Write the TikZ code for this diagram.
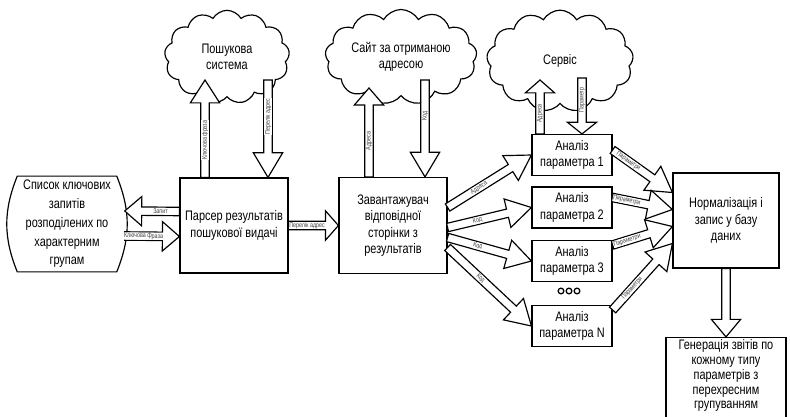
\documentclass[tikz,border=0pt]{standalone}
\usepackage{fontspec}
\setmainfont{Liberation Sans}[FakeStretch=0.79]
\usetikzlibrary{shapes,shapes.symbols,arrows,positioning,calc}

\tikzset{
  block/.style={rectangle, draw, line width=1pt, fill=white, align=center,
    font=\fontsize{11.8}{14}\selectfont, inner sep=2pt},
  anbox/.style={block, minimum width=2.4cm, minimum height=1.23cm},
  cloudnode/.style={cloud, draw, line width=1pt, cloud puffs=13, cloud puff arc=120,
    cloud ignores aspect, align=center, font=\fontsize{11.8}{14}\selectfont, inner sep=0pt},
  fatarrow/.style={draw, line width=1pt, fill=white, line join=miter},
  arrlabel/.style={midway, font=\fontsize{5.8}{5.8}\selectfont, text=black!75,
    inner sep=0.3pt, fill=white},
}

% shaft and head half widths of the wide arrows
\def\shw{3.6pt}
\def\hdw{12.5pt}
% \fatarr[head length]{from}{to}{label}{label options}
\newcommand{\fatarr}[5][20pt]{%
  \coordinate (fah) at ($(#3)!#1!(#2)$);
  \draw[fatarrow] ($(#2)!\shw!90:(#3)$) -- ($(fah)!\shw!90:(#3)$)
    -- ($(fah)!\hdw!90:(#3)$) -- (#3) -- ($(fah)!\hdw!-90:(#3)$)
    -- ($(fah)!\shw!-90:(#3)$) -- ($(#2)!\shw!-90:(#3)$) -- cycle;
  \path (#2) -- (fah) node[arrlabel, #5] {#4};
}

\begin{document}
\begin{tikzpicture}[x=0.03cm, y=-0.03cm]
    \useasboundingbox (0,0) rectangle (790,416);

    % Clouds (outside services)
    \node[cloudnode, minimum width=3.75cm, minimum height=2.8cm] (search) at (227,57) {Пошукова\\система};
    \node[cloudnode, minimum width=4.55cm, minimum height=2.85cm] (site) at (401,57) {Сайт за отриманою\\адресою};
    \node[cloudnode, minimum width=4.4cm, minimum height=3.05cm] (service) at (560,61) {Сервіс};

    % Keyword list (barrel)
    \node[align=center, font=\fontsize{11.8}{16}\selectfont, minimum width=2.97cm, minimum height=2.76cm] (lst) at (67,224)
        {Список ключових\\запитів\\розподілених по\\характерним\\групам};
    \draw[line width=1pt] (lst.north west) to[bend right=22] (lst.south west) -- (lst.south east)
        to[bend right=22] (lst.north east) -- cycle;

    % Main blocks
    \node[block, minimum width=3.24cm, minimum height=2.85cm] (parser) at (234,225.5) {Парсер результатів\\пошукової видачі};
    \node[block, minimum width=3.24cm, minimum height=2.88cm] (loader) at (393,225.5) {Завантажувач\\відповідної\\сторінки з\\результатів};
    \node[block, minimum width=3.18cm, minimum height=2.85cm] (norm) at (726,220.5) {Нормалізація і\\запис у базу\\даних};
    \node[block, minimum width=3.6cm, minimum height=2.52cm, font=\fontsize{11.8}{12.6}\selectfont] (report) at (726,380)
        {Генерація звітів по\\кожному типу\\параметрів з\\перехресним\\групуванням\\[-3pt]\mbox{}};

    % Analysis blocks
    \foreach \i/\yy/\num in {1/155/1, 2/207.5/2, 3/261/3, 4/326/N}
        \node[anbox] (an\i) at (572,\yy) {Аналіз\\параметра \num};
    \foreach \xx in {561,569,577}
        \draw[line width=1.1pt] (\xx,291) circle[radius=0.085cm];

    % Search engine arrows
    \coordinate (kwtip) at (205,80);
    \coordinate (kwbase) at (parser.north -| kwtip);
    \coordinate (adsrc) at (268,80);
    \coordinate (adtip) at (parser.north -| adsrc);
    \fatarr[19.5pt]{kwbase}{kwtip}{Ключова фраза}{rotate=90}
    \fatarr[21pt]{adsrc}{adtip}{Перелік адрес}{rotate=90}

    % Site arrows
    \coordinate (u2tip) at (369,88);
    \coordinate (u2base) at (loader.north -| u2tip);
    \coordinate (d2src) at (425,80);
    \coordinate (d2tip) at (loader.north -| d2src);
    \fatarr[14.5pt]{u2base}{u2tip}{Адреса}{rotate=90}
    \fatarr[21pt]{d2src}{d2tip}{Код}{rotate=90}

    % Service arrows
    \coordinate (u3tip) at (540,80);
    \coordinate (u3base) at (an1.north -| u3tip);
    \coordinate (d3src) at (582,78);
    \coordinate (d3tip) at (an1.north -| d3src);
    \fatarr[11pt]{u3base}{u3tip}{Адреса}{rotate=90}
    \fatarr[10pt]{d3src}{d3tip}{Параметр}{rotate=90}

    % Keyword list <-> parser
    \coordinate (qsrc) at ($(parser.west)+(0,-14)$);
    \coordinate (qtip) at ($(lst.east)+(8,-13)$);
    \coordinate (ksrc) at ($(lst.east)+(8,12)$);
    \coordinate (ktip) at ($(parser.west)+(0,11)$);
    \fatarr[14.5pt]{qsrc}{qtip}{Запит}{sloped}
    \fatarr[14.5pt]{ksrc}{ktip}{Ключова фраза}{sloped}

    % Parser -> loader
    \fatarr[11pt]{parser.east}{loader.west}{Перелік адрес}{sloped}

    % Loader -> analysis
    \foreach \i/\dy/\lab in {1/-18/Адреса, 2/2/Код, 3/12/Код, 4/22/Код} {
        \coordinate (l\i) at ($(loader.east)+(0,\dy)$);
        \fatarr[21pt]{l\i}{an\i.west}{\lab}{sloped}
    }

    % Analysis -> normalization
    \coordinate (s1) at ($(an1.east)+(0,-5)$);
    \coordinate (s2) at ($(an2.east)+(0,-10)$);
    \coordinate (s3) at ($(an3.east)+(0,-16)$);
    \coordinate (s4) at ($(an4.east)+(0,-16)$);
    \foreach \i/\dy/\p in {1/-28/0.4, 2/-11/0.4, 3/6/0.4, 4/23/0.45} {
        \coordinate (n\i) at ($(norm.west)+(0,\dy)$);
        \fatarr[21pt]{s\i}{n\i}{Параметри}{sloped, pos=\p}
    }

    % Normalization -> report
    \fatarr[15pt]{norm.south}{report.north}{}{}
\end{tikzpicture}
\end{document}
